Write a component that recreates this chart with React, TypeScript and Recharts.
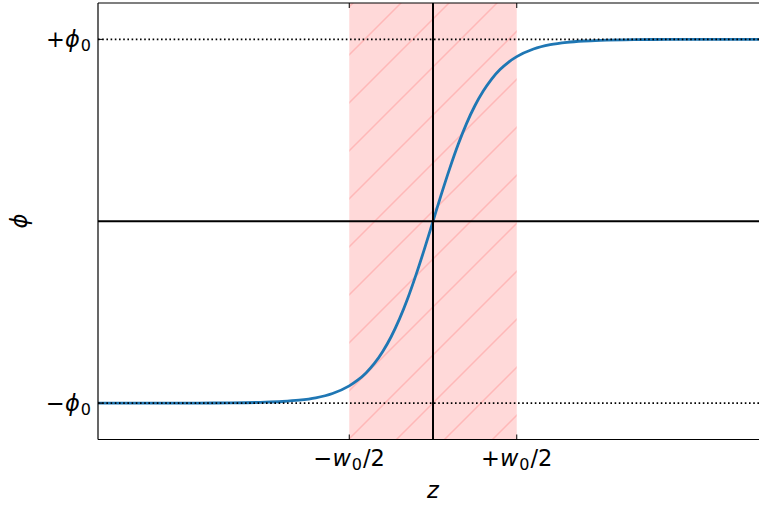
import { ComposedChart, Line, ReferenceArea, ReferenceLine, XAxis, YAxis } from 'recharts';

// z in units of w0, phi in units of phi0
const zValues = [
    -2, -1.8, -1.6, -1.4, -1.2, -1.0, -0.9, -0.8, -0.7, -0.6, -0.5, -0.45, -0.4, -0.35, -0.3, -0.25,
    -0.2, -0.15, -0.1, -0.05, 0, 0.05, 0.1, 0.15, 0.2, 0.25, 0.3, 0.35, 0.4, 0.45, 0.5, 0.6, 0.7,
    0.8, 0.9, 1.0, 1.2, 1.4, 1.6, 1.8, 2,
];
const phiValues = [
    -1.0, -1.0, -0.9999, -0.9995, -0.9985, -0.995, -0.991, -0.984, -0.971, -0.947, -0.905, -0.874,
    -0.834, -0.782, -0.716, -0.635, -0.537, -0.422, -0.291, -0.149, 0, 0.149, 0.291, 0.422, 0.537,
    0.635, 0.716, 0.782, 0.834, 0.874, 0.905, 0.947, 0.971, 0.984, 0.991, 0.995, 0.9985, 0.9995,
    0.9999, 1.0, 1.0,
];
const xTicks = [-0.5, 0.5];
const yTicks = [-1, 1];
const wallEdges = [-0.5, 0.5];

const data = zValues.map((z, i) => ({ z, phi: phiValues[i] }));

const FONT = '"DejaVu Sans", sans-serif';
const FONT_SIZE = 22.5;
const SUB_SIZE = 16;

interface TickProps {
    x?: number;
    y?: number;
    payload?: { value: number };
}

const sign = (v: number) => (v < 0 ? '\u2212' : '+');

const BottomTick = ({ x = 0, y = 0, payload }: TickProps) => (
    <g>
        <line x1={x} x2={x} y1={y} y2={y - 5} stroke="#000" strokeWidth={1} />
        <text
            x={x}
            y={y + 26}
            textAnchor="middle"
            fontFamily={FONT}
            fontSize={FONT_SIZE}
            fill="#000"
        >
            <tspan>{sign(payload?.value ?? 0)}</tspan>
            <tspan fontStyle="italic">w</tspan>
            <tspan fontSize={SUB_SIZE} dy={4} dx={1}>0</tspan>
            <tspan dy={-4} dx={1}>/2</tspan>
        </text>
    </g>
);

const TopTick = ({ x = 0, y = 0 }: TickProps) => (
    <line x1={x} x2={x} y1={y} y2={y + 5} stroke="#000" strokeWidth={1} />
);

const LeftTick = ({ x = 0, y = 0, payload }: TickProps) => (
    <g>
        <line x1={x} x2={x + 5} y1={y} y2={y} stroke="#000" strokeWidth={1} />
        <text
            x={x - 7}
            y={y + 8}
            textAnchor="end"
            fontFamily={FONT}
            fontSize={FONT_SIZE}
            fill="#000"
        >
            <tspan>{sign(payload?.value ?? 0)}</tspan>
            <tspan fontStyle="italic">ϕ</tspan>
            <tspan fontSize={SUB_SIZE} dy={4} dx={1}>0</tspan>
        </text>
    </g>
);

export default function App() {
    return (
        <div
            style={{
                position: 'absolute',
                left: 0,
                top: 0,
                width: 759,
                height: 507,
                overflow: 'hidden',
                background: '#fff',
            }}
        >
            <ComposedChart
                width={790}
                height={507}
                data={data}
                margin={{ top: 2, right: 22, bottom: 0, left: 0 }}
            >
                <defs>
                    <pattern
                        id="wallHatch"
                        patternUnits="userSpaceOnUse"
                        width={48}
                        height={48}
                        patternTransform="translate(20,0)"
                    >
                        <rect width={48} height={48} fill="#ffd9d9" />
                        <path
                            d="M-4,4 L4,-4 M0,48 L48,0 M44,52 L52,44"
                            stroke="#ffb8b8"
                            strokeWidth={1.5}
                        />
                    </pattern>
                </defs>
                <XAxis
                    dataKey="z"
                    type="number"
                    domain={[-2, 2]}
                    ticks={xTicks}
                    height={67.5}
                    tickSize={0}
                    tickMargin={0}
                    tickLine={false}
                    tick={<BottomTick />}
                    axisLine={{ stroke: '#000', strokeWidth: 1.2 }}
                    allowDataOverflow
                />
                <XAxis
                    xAxisId="top"
                    orientation="top"
                    dataKey="z"
                    type="number"
                    domain={[-2, 2]}
                    ticks={xTicks}
                    height={1}
                    tickSize={0}
                    tickMargin={0}
                    tickLine={false}
                    tick={<TopTick />}
                    axisLine={{ stroke: '#000', strokeWidth: 1.2 }}
                    allowDataOverflow
                />
                <YAxis
                    type="number"
                    domain={[-1.2, 1.2]}
                    ticks={yTicks}
                    width={98}
                    tickSize={0}
                    tickMargin={0}
                    tickLine={false}
                    tick={<LeftTick />}
                    axisLine={{ stroke: '#000', strokeWidth: 1.2 }}
                    allowDataOverflow
                />
                <ReferenceArea
                    x1={wallEdges[0]}
                    x2={wallEdges[1]}
                    fill="url(#wallHatch)"
                    fillOpacity={1}
                    stroke="none"
                />
                <Line
                    dataKey="phi"
                    type="monotone"
                    stroke="#1f77b4"
                    strokeWidth={2.8}
                    dot={false}
                    activeDot={false}
                    isAnimationActive={false}
                />
                <ReferenceLine x={0} stroke="#000" strokeWidth={2} />
                <ReferenceLine y={0} stroke="#000" strokeWidth={2} />
                {yTicks.map((v) => (
                    <ReferenceLine
                        key={v}
                        y={v}
                        stroke="#000"
                        strokeWidth={1.6}
                        strokeDasharray="1.6 2.6"
                    />
                ))}
                <text
                    x={433}
                    y={498}
                    textAnchor="middle"
                    fontFamily={FONT}
                    fontSize={FONT_SIZE}
                    fontStyle="italic"
                    fill="#000"
                >
                    z
                </text>
                <text
                    x={27}
                    y={221}
                    textAnchor="middle"
                    fontFamily={FONT}
                    fontSize={FONT_SIZE}
                    fontStyle="italic"
                    fill="#000"
                    transform="rotate(-90 27 221)"
                >
                    ϕ
                </text>
            </ComposedChart>
        </div>
    );
}
